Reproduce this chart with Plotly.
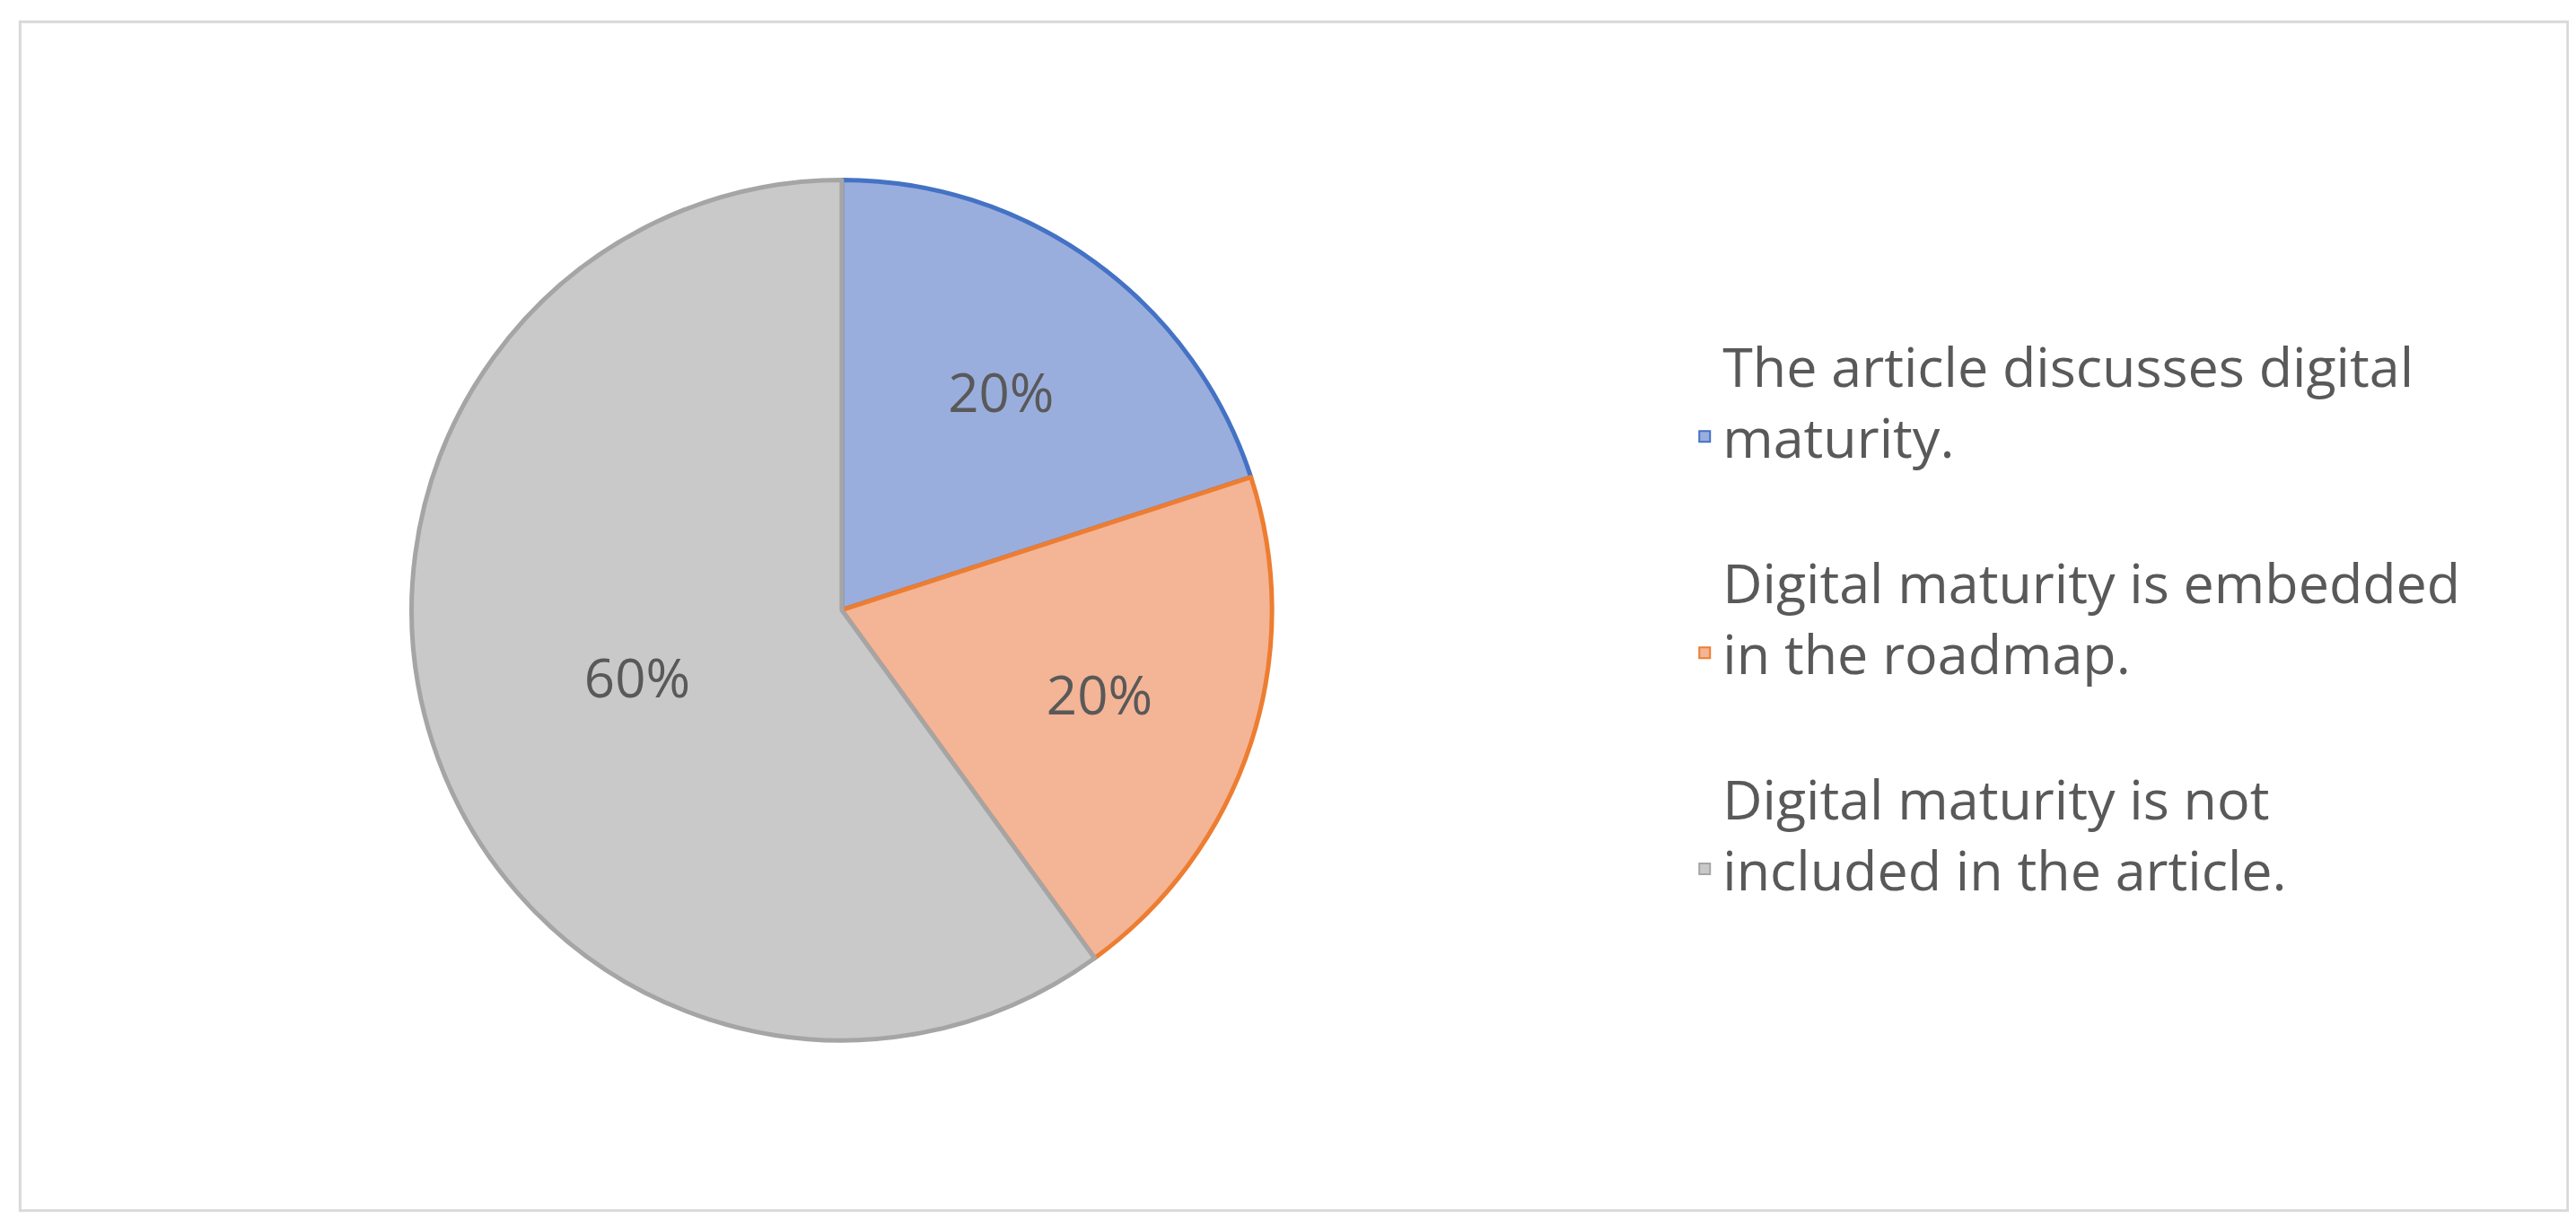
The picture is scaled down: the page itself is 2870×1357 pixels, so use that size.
import plotly.graph_objects as go

labels = ["The article discusses digital<br>maturity.<br> ",
          "Digital maturity is embedded<br>in the roadmap.<br> ",
          "Digital maturity is not<br>included in the article.<br> "]
values = [20, 20, 60]
fills = ["#9AAEDE", "#F4B496", "#C9C9C9"]
borders = ["#4472C4", "#ED7D31", "#A5A5A5"]

fig = go.Figure(go.Pie(
    labels=labels, values=values, sort=False, direction="clockwise", rotation=0,
    marker=dict(colors=fills, line=dict(color=borders, width=5)),
    texttemplate="%{percent:.0%}", textposition="inside",
    insidetextfont=dict(size=60, color="#595959", family="Open Sans"),
    domain=dict(x=[0.157, 0.491], y=[0.148, 0.862]),
))
fig.update_layout(
    width=2870, height=1357, margin=dict(l=0, r=0, t=0, b=0),
    paper_bgcolor="white", font=dict(family="Open Sans", color="#595959"),
    legend=dict(x=0.652, y=0.74, xanchor="left", yanchor="top",
                font=dict(size=61, color="#595959"), itemsizing="constant"),
    shapes=[dict(type="rect", xref="paper", yref="paper", x0=0.005, x1=0.994, y0=0.012, y1=0.988,
                 line=dict(color="#D9D9D9", width=3))],
)
fig.write_html("out.html")
